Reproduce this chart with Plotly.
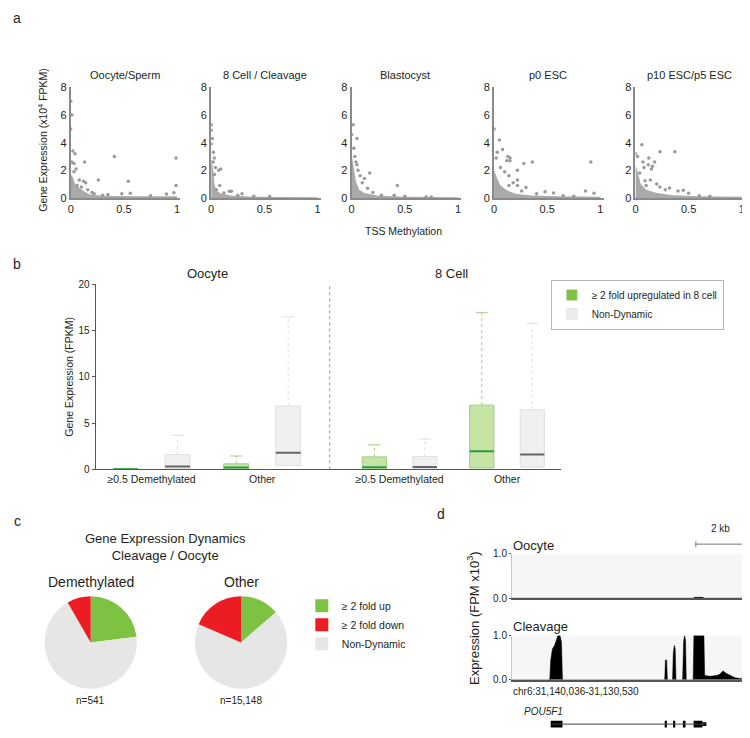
import plotly.graph_objects as go

# the page body keeps its default 8px margin, so the figure is drawn 8px in
# from the top-left corner; positions below are given in screen pixels
W, H = 750, 738
PAD = 8
FIG_W, FIG_H = W - PAD, H - PAD
FONT = "Liberation Sans, Arial, sans-serif"
INK = "#231f20"


def fx(p):
    return min(1, max(0, (p - PAD) / FIG_W))


def fy(p):
    return min(1, max(0, 1 - (p - PAD) / FIG_H))


# ---------------- panel a : TSS methylation vs expression ----------------
stages = ["Oocyte/Sperm", "8 Cell / Cleavage", "Blastocyst", "p0 ESC", "p10 ESC/p5 ESC"]
meth_ticks = [0, 0.5, 1]
meth_ticktext = ["0", "0.5", "1"]
expr_ticks = [0, 2, 4, 6, 8]

oocyte_meth = [0.0, 0.01, 0.0, 0.02, 0.04, 0.01, 0.03, 0.13, 0.41, 0.99, 0.26, 0.54, 0.99, 0.08,
               0.12, 0.14, 0.06, 0.16, 0.2, 0.05, 0.1, 0.22, 0.35, 0.48, 0.56, 0.75, 0.9, 0.97, 0.3, 0.03]
oocyte_expr = [7.0, 6.0, 5.0, 3.4, 3.2, 2.6, 2.5, 2.6, 3.0, 2.9, 1.3, 1.2, 0.9, 1.3,
               1.2, 1.1, 0.9, 0.6, 0.4, 2.1, 0.8, 0.3, 0.25, 0.3, 0.33, 0.15, 0.29, 0.38, 0.2, 1.9]
oocyte_cloud_meth = [0, 0, 0.02, 0.04, 0.07, 0.12, 0.18, 0.3, 0.6, 1.0, 1.0]
oocyte_cloud_expr = [0, 1.7, 1.5, 1.0, 0.8, 0.5, 0.25, 0.15, 0.12, 0.12, 0]

cleav_meth = [0.0, 0.0, 0.01, 0.0, 0.02, 0.03, 0.02, 0.04, 0.09, 0.07, 0.03, 0.05, 0.17, 0.19,
              0.29, 0.12, 0.08, 0.25, 0.4, 0.55]
cleav_expr = [5.3, 4.9, 4.3, 3.9, 3.3, 2.9, 2.6, 2.2, 2.1, 2.0, 1.7, 0.6, 0.48, 0.48,
              0.3, 0.35, 0.9, 0.2, 0.12, 0.1]
cleav_cloud_meth = [0, 0, 0.02, 0.03, 0.05, 0.1, 0.2, 0.4, 1.0, 1.0]
cleav_cloud_expr = [0, 3.0, 2.0, 1.0, 0.5, 0.3, 0.15, 0.08, 0.05, 0]

blast_meth = [0.015, 0.05, 0.02, 0.0, 0.03, 0.04, 0.17, 0.43, 0.12, 0.1, 0.15, 0.08, 0.06, 0.28,
              0.4, 0.5, 0.7, 0.75, 0.2, 0.05]
blast_expr = [5.3, 4.3, 3.6, 4.6, 3.0, 2.6, 1.8, 0.9, 1.4, 1.1, 0.7, 1.6, 2.0, 0.2,
              0.2, 0.12, 0.06, 0.06, 0.4, 2.4]
blast_cloud_meth = [0, 0, 0.02, 0.04, 0.07, 0.12, 0.25, 0.5, 1.0, 1.0]
blast_cloud_expr = [0, 3.2, 2.2, 1.2, 0.6, 0.35, 0.15, 0.08, 0.05, 0]

p0_meth = [0.0, 0.05, 0.08, 0.13, 0.15, 0.12, 0.15, 0.28, 0.36, 0.91, 0.22, 0.06, 0.14, 0.22,
           0.3, 0.14, 0.22, 0.48, 0.56, 0.86, 0.94, 0.03, 0.02, 0.1, 0.18, 0.26, 0.4, 0.65, 0.75]
p0_expr = [5.0, 4.2, 3.5, 3.0, 2.9, 2.7, 2.7, 2.5, 2.6, 2.6, 2.0, 2.2, 1.6, 1.3,
           0.76, 0.9, 0.9, 0.45, 0.36, 0.5, 0.33, 3.3, 2.9, 1.9, 1.1, 0.5, 0.3, 0.15, 0.12]
p0_cloud_meth = [0, 0, 0.03, 0.06, 0.12, 0.2, 0.35, 0.6, 1.0, 1.0]
p0_cloud_expr = [0, 2.0, 1.4, 0.9, 0.55, 0.3, 0.18, 0.12, 0.08, 0]

p10_meth = [0.06, 0.23, 0.37, 0.0, 0.02, 0.125, 0.07, 0.12, 0.16, 0.15, 0.18, 0.08, 0.09, 0.14,
            0.23, 0.32, 0.4, 0.45, 0.5, 0.04, 0.28, 0.1, 0.2, 0.6, 0.7]
p10_expr = [3.85, 3.35, 3.35, 3.2, 3.0, 2.9, 2.6, 2.4, 2.3, 2.1, 2.6, 2.2, 1.25, 1.3,
            0.8, 0.71, 0.5, 0.55, 0.33, 1.8, 0.6, 0.9, 1.0, 0.15, 0.12]
p10_cloud_meth = [0, 0, 0.03, 0.05, 0.1, 0.2, 0.35, 0.6, 1.0, 1.0]
p10_cloud_expr = [0, 2.4, 1.6, 1.0, 0.6, 0.35, 0.2, 0.12, 0.08, 0]

# ---------------- panel b : expression boxes ----------------
box_groups = ["≥0.5 Demethylated", "Other"]
# Oocyte, >=2 fold upregulated in 8 cell
oo_up_q1 = [0.0, 0.0]
oo_up_med = [0.02, 0.2]
oo_up_q3 = [0.06, 0.6]
oo_up_hi = [0.1, 1.45]
# Oocyte, non-dynamic
oo_nd_q1 = [0.05, 0.4]
oo_nd_med = [0.3, 1.8]
oo_nd_q3 = [1.6, 6.85]
oo_nd_hi = [3.7, 16.5]
# 8 cell, upregulated
ec_up_q1 = [0.0, 0.15]
ec_up_med = [0.22, 1.95]
ec_up_q3 = [1.35, 6.95]
ec_up_hi = [2.65, 16.95]
# 8 cell, non-dynamic
ec_nd_q1 = [0.05, 0.25]
ec_nd_med = [0.25, 1.6]
ec_nd_q3 = [1.4, 6.45]
ec_nd_hi = [3.3, 15.8]

# ---------------- panel c : pies ----------------
pie_labels = ["≥ 2 fold up", "Non-Dynamic", "≥ 2 fold down"]
demeth_pct = [23.0, 68.7, 8.3]
other_pct = [13.6, 67.9, 18.5]
legend_c_labels = ["≥ 2 fold up", "≥ 2 fold down", "Non-Dynamic"]

# ---------------- panel d : POU5F1 tracks (kb from chr6:31,140,036) ----------------
oocyte_kb = [0, 1.92, 1.93, 1.98, 1.99, 7.42, 7.43, 7.80, 7.81, 8.48, 8.49, 8.76, 8.77, 9.506]
oocyte_fpm = [0, 0, 0.015, 0.015, 0, 0, 0.02, 0.02, 0, 0, 0.015, 0.015, 0, 0]
cleav_kb = [0, 1.54, 1.58, 1.65, 1.74, 1.80, 1.87, 1.96, 2.02, 2.06,
            6.23, 6.26, 6.31, 6.34,
            6.55, 6.58, 6.62, 6.66, 6.69,
            6.96, 7.00, 7.04, 7.08, 7.11,
            7.39, 7.42, 7.83, 7.86, 8.08, 8.35, 8.49, 8.56, 8.62, 8.73, 8.90, 9.10, 9.30, 9.506]
cleav_fpm = [0, 0, 0.45, 0.70, 0.78, 0.88, 1.0, 1.0, 0.85, 0,
             0, 0.45, 0.45, 0,
             0, 0.6, 0.78, 0.7, 0,
             0, 0.85, 1.0, 0.9, 0,
             0, 1.0, 1.0, 0.1, 0.08, 0.1, 0.13, 0.18, 0.2, 0.15, 0.1, 0.05, 0.03, 0.02]
exon_start = [1.58, 6.23, 6.57, 6.97, 7.41]
exon_end = [2.06, 6.32, 6.66, 7.08, 7.77]
utr_start = [7.77]
utr_end = [7.93]
gene_span = [1.62, 7.89]
scale_kb = [7.5, 9.5]

fig = go.Figure()

# ---- panel a traces ----
a_sets = [
    (oocyte_meth, oocyte_expr, oocyte_cloud_meth, oocyte_cloud_expr),
    (cleav_meth, cleav_expr, cleav_cloud_meth, cleav_cloud_expr),
    (blast_meth, blast_expr, blast_cloud_meth, blast_cloud_expr),
    (p0_meth, p0_expr, p0_cloud_meth, p0_cloud_expr),
    (p10_meth, p10_expr, p10_cloud_meth, p10_cloud_expr),
]
a_left = [68, 209, 350, 493, 635]
for i, (mx, ey, cx, cy) in enumerate(a_sets):
    sfx = "" if i == 0 else str(i + 1)
    fig.add_trace(go.Scatter(x=cx, y=cy, mode="lines", fill="toself", fillcolor="#a9a9a9",
                             line=dict(width=0), xaxis="x" + sfx, yaxis="y" + sfx,
                             showlegend=False, hoverinfo="skip"))
    fig.add_trace(go.Scatter(x=mx, y=ey, mode="markers",
                             marker=dict(size=3.5, color="#9b9b9b"),
                             xaxis="x" + sfx, yaxis="y" + sfx, showlegend=False))

# ---- panel b traces ----
BOX_W = 0.225
OFF = 0.235


def add_boxes(xa, ya, q1, med, q3, hi, offset, fill, edge, mid):
    xs = [i + offset for i in range(len(q1))]
    wx, wy, cx, cy, mx, my = [], [], [], [], [], []
    for x, a, m, b, h in zip(xs, q1, med, q3, hi):
        wx += [x, x, None]
        wy += [b, h, None]
        cx += [x - BOX_W / 4, x + BOX_W / 4, None]
        cy += [h, h, None]
        mx += [x - BOX_W / 2, x + BOX_W / 2, None]
        my += [m, m, None]
    fig.add_trace(go.Scatter(x=wx, y=wy, mode="lines", line=dict(color=edge, width=1, dash="dot"),
                             xaxis=xa, yaxis=ya, showlegend=False, hoverinfo="skip"))
    fig.add_trace(go.Scatter(x=cx, y=cy, mode="lines", line=dict(color=edge, width=1),
                             xaxis=xa, yaxis=ya, showlegend=False, hoverinfo="skip"))
    fig.add_trace(go.Bar(x=xs, y=[b - a for a, b in zip(q1, q3)], base=q1, width=BOX_W,
                         marker=dict(color=fill, line=dict(color=edge, width=1)),
                         xaxis=xa, yaxis=ya, showlegend=False))
    fig.add_trace(go.Scatter(x=mx, y=my, mode="lines", line=dict(color=mid, width=2),
                             xaxis=xa, yaxis=ya, showlegend=False, hoverinfo="skip"))


G_FILL, G_EDGE, G_MID = "#c5e4a6", "#9ed07a", "#2f9a44"
N_FILL, N_EDGE, N_MID = "#f0f0f2", "#e0e0e3", "#666666"
add_boxes("x6", "y6", oo_up_q1, oo_up_med, oo_up_q3, oo_up_hi, -OFF, G_FILL, G_EDGE, G_MID)
add_boxes("x6", "y6", oo_nd_q1, oo_nd_med, oo_nd_q3, oo_nd_hi, OFF, N_FILL, N_EDGE, N_MID)
add_boxes("x7", "y7", ec_up_q1, ec_up_med, ec_up_q3, ec_up_hi, -OFF, G_FILL, G_EDGE, G_MID)
add_boxes("x7", "y7", ec_nd_q1, ec_nd_med, ec_nd_q3, ec_nd_hi, OFF, N_FILL, N_EDGE, N_MID)

for name, col in [("≥ 2 fold upregulated in 8 cell", "#7dc242"), ("Non-Dynamic", "#ececee")]:
    fig.add_trace(go.Scatter(x=[None], y=[None], mode="markers", name=name,
                             marker=dict(symbol="square", size=11, color=col,
                                         line=dict(color="#dddddd", width=0.5)),
                             xaxis="x6", yaxis="y6", legend="legend"))

# ---- panel c traces ----
PIE_COLORS = ["#7dc242", "#e6e6e6", "#ec1c24"]
for vals, cx in [(demeth_pct, 88), (other_pct, 239)]:
    fig.add_trace(go.Pie(labels=pie_labels, values=vals, sort=False, direction="clockwise",
                         rotation=0, textinfo="none", showlegend=False,
                         marker=dict(colors=PIE_COLORS, line=dict(width=0)),
                         domain=dict(x=[fx(cx - 47), fx(cx + 47)], y=[fy(694), fy(600)])))
for name, col in zip(legend_c_labels, ["#7dc242", "#ec1c24", "#e6e6e6"]):
    fig.add_trace(go.Scatter(x=[None], y=[None], mode="markers", name=name,
                             marker=dict(symbol="square", size=13, color=col),
                             xaxis="x6", yaxis="y6", legend="legend2"))

# ---- panel d traces ----
fig.add_trace(go.Scatter(x=oocyte_kb, y=oocyte_fpm, mode="lines", fill="tozeroy",
                         fillcolor="black", line=dict(color="black", width=0.5),
                         xaxis="x8", yaxis="y8", showlegend=False))
fig.add_trace(go.Scatter(x=cleav_kb, y=cleav_fpm, mode="lines", fill="tozeroy",
                         fillcolor="black", line=dict(color="black", width=0.5),
                         xaxis="x9", yaxis="y9", showlegend=False))
fig.add_trace(go.Scatter(x=gene_span, y=[0, 0], mode="lines", line=dict(color="#444", width=1),
                         xaxis="x10", yaxis="y10", showlegend=False))
fig.add_trace(go.Bar(orientation="h", y=[0] * len(exon_start),
                     x=[e - s for s, e in zip(exon_start, exon_end)], base=exon_start,
                     width=0.85, marker=dict(color="black", line=dict(width=0)),
                     xaxis="x10", yaxis="y10", showlegend=False))
fig.add_trace(go.Bar(orientation="h", y=[0] * len(utr_start),
                     x=[e - s for s, e in zip(utr_start, utr_end)], base=utr_start,
                     width=0.5, marker=dict(color="black", line=dict(width=0)),
                     xaxis="x10", yaxis="y10", showlegend=False))

# ---------------- layout ----------------
axes = {}
tick_font = dict(size=11, color=INK)
for i, left in enumerate(a_left):
    sfx = "" if i == 0 else str(i + 1)
    axes["xaxis" + sfx] = dict(domain=[fx(left), fx(left + 110)], range=[0, 1.03],
                               anchor="y" + sfx, tickvals=meth_ticks, ticktext=meth_ticktext,
                               showline=True, linecolor="#8a8a8a", linewidth=2, ticks="",
                               showgrid=False, zeroline=False, tickfont=tick_font)
    axes["yaxis" + sfx] = dict(domain=[fy(195), fy(82)], range=[0, 8.05], anchor="x" + sfx,
                               tickvals=expr_ticks, showline=True, linecolor="#8a8a8a",
                               linewidth=2, ticks="", showgrid=False, zeroline=False,
                               tickfont=tick_font)

b_x = dict(tickvals=[0, 1], ticktext=box_groups, showline=True, linecolor="#555",
           linewidth=1, ticks="", showgrid=False, zeroline=False,
           tickfont=dict(size=10.5, color=INK))
axes["xaxis6"] = dict(b_x, domain=[fx(93), fx(328)], range=[-0.505, 1.61], anchor="y6")
axes["xaxis7"] = dict(b_x, domain=[fx(328), fx(560)], range=[-0.65, 1.5], anchor="y7")
axes["yaxis6"] = dict(domain=[fy(471), fy(283)], range=[0, 20], anchor="x6",
                      tickvals=[0, 5, 10, 15, 20], showline=True, linecolor="#555", linewidth=1,
                      ticks="outside", ticklen=3, tickcolor="#555", showgrid=False,
                      zeroline=False, tickfont=dict(size=10, color=INK))
axes["yaxis7"] = dict(domain=[fy(471), fy(283)], range=[0, 20], anchor="x7", visible=False)

d_x = dict(domain=[fx(511), fx(745)], range=[0, 9.506], showticklabels=False, showline=True,
           linecolor="#555", linewidth=1.5, ticks="", showgrid=False, zeroline=False)
d_y = dict(range=[0, 1], tickvals=[0, 1], tickformat=".1f", showline=True, linecolor="#c8c8c8",
           linewidth=1, ticks="outside", ticklen=2, tickcolor="#555", showgrid=False,
           zeroline=False, tickfont=dict(size=10, color=INK))
axes["xaxis8"] = dict(d_x, anchor="y8")
axes["yaxis8"] = dict(d_y, domain=[fy(602), fy(557)], anchor="x8")
axes["xaxis9"] = dict(d_x, anchor="y9")
axes["yaxis9"] = dict(d_y, domain=[fy(685), fy(640)], anchor="x9")
axes["xaxis10"] = dict(domain=[fx(511), fx(745)], range=[0, 9.506], anchor="y10", visible=False)
axes["yaxis10"] = dict(domain=[fy(738), fy(722)], range=[-1, 1], anchor="x10", visible=False)

ann = []


def note(text, x, y, size, xanchor="center", angle=0, yanchor="middle"):
    ann.append(dict(text=text, x=fx(x), y=fy(y), xref="paper", yref="paper", showarrow=False,
                    xanchor=xanchor, yanchor=yanchor, textangle=angle,
                    font=dict(size=size, color=INK)))


# panel labels
note("a", 8, 12, 14, xanchor="left")
note("b", 8, 262, 14, xanchor="left")
note("c", 9, 523, 14, xanchor="left")
note("d", 440, 516, 14)
# panel a
for name, left in zip(stages, a_left):
    note(name, left + 54, 70, 11)
note("Gene Expression (x10<sup>4</sup> FPKM)", 40, 136, 10.5, angle=-90)
note("TSS Methylation", 402, 229, 10.5)
# panel b
note("Oocyte", 205, 272, 13)
note("8 Cell", 450, 272, 13)
note("Gene Expression (FPKM)", 66, 377, 10.5, angle=-90)
# panel c
note("Gene Expression Dynamics<br>Cleavage / Oocyte", 163, 550, 13)
note("Demethylated", 88, 586, 14)
note("Other", 239, 586, 14)
note("n=541", 88, 706, 10)
note("n=15,148", 239, 706, 10)
# panel d
note("Oocyte", 510, 548, 13, xanchor="left")
note("Cleavage", 510, 631, 13, xanchor="left")
note("Expression (FPM x10<sup>3</sup>)", 472, 622, 13, angle=-90)
note("chr6:31,140,036-31,130,530", 510, 697, 10, xanchor="left")
note("<i>POU5F1</i>", 521, 717, 10, xanchor="left")
ann.append(dict(text="2 kb", x=sum(scale_kb) / 2, xref="x8", y=fy(539), yref="paper",
                showarrow=False, font=dict(size=10, color=INK)))

shapes = [
    dict(type="line", xref="x7 domain", x0=0, x1=0, yref="paper", y0=fy(471), y1=fy(283),
         line=dict(color="#999", width=1, dash="dot")),
    dict(type="rect", xref="x8 domain", x0=0, x1=1, yref="y8 domain", y0=0, y1=1,
         fillcolor="#f6f6f6", line=dict(width=0), layer="below"),
    dict(type="rect", xref="x9 domain", x0=0, x1=1, yref="y9 domain", y0=0, y1=1,
         fillcolor="#f6f6f6", line=dict(width=0), layer="below"),
    dict(type="line", xref="x8", x0=scale_kb[0], x1=scale_kb[1], yref="paper",
         y0=fy(547), y1=fy(547), line=dict(color="#777", width=1)),
]
for k in scale_kb:
    shapes.append(dict(type="line", xref="x8", x0=k, x1=k, yref="paper", y0=fy(544),
                       y1=fy(550), line=dict(color="#777", width=1)))

fig.update_layout(
    width=FIG_W, height=FIG_H, margin=dict(l=0, r=0, t=0, b=0),
    paper_bgcolor="white", plot_bgcolor="white",
    font=dict(family=FONT, color=INK),
    barmode="overlay", showlegend=True,
    legend=dict(x=fx(550), y=fy(278), xanchor="left", yanchor="top", bordercolor="#b5b5b5",
                borderwidth=1, bgcolor="white", font=dict(size=10, color=INK),
                tracegroupgap=0, itemwidth=30),
    legend2=dict(x=fx(300), y=fy(595), xanchor="left", yanchor="top", borderwidth=0,
                 bgcolor="rgba(0,0,0,0)", font=dict(size=10.5, color=INK), tracegroupgap=0,
                 itemwidth=30),
    annotations=ann, shapes=shapes,
    **axes,
)

fig.write_html("out.html")
